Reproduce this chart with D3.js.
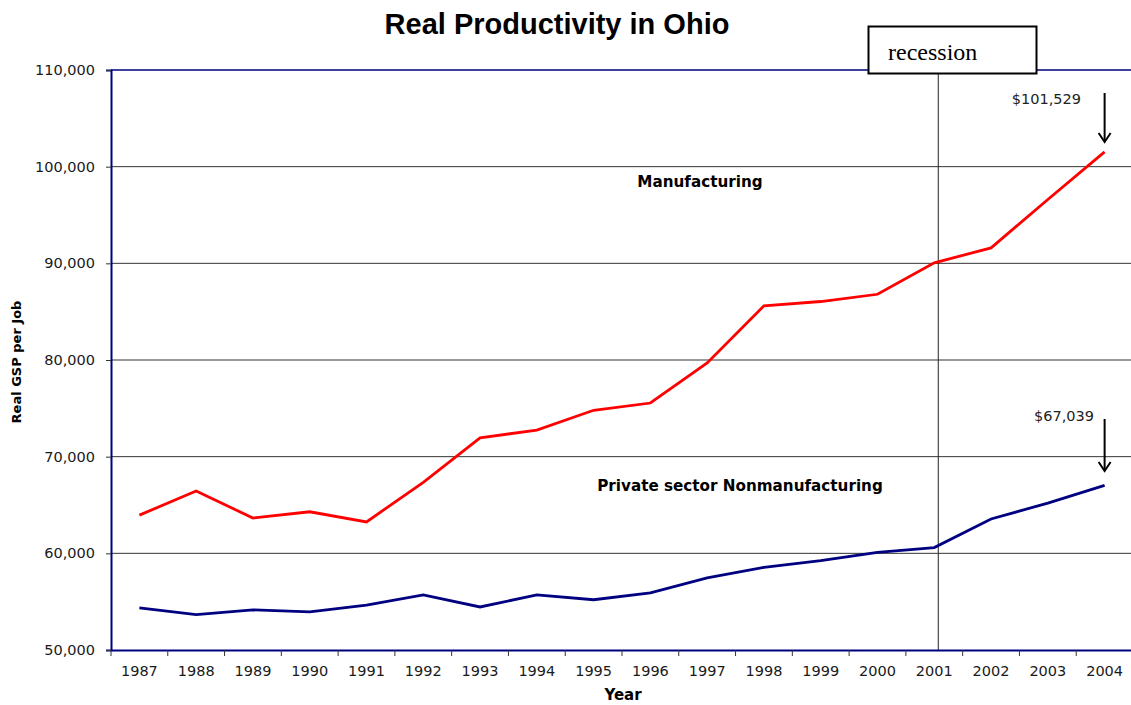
<!DOCTYPE html>
<html><head><meta charset="utf-8">
<script src="https://cdn.jsdelivr.net/npm/d3@7"></script>
<style>body{margin:0;background:#fff}svg{display:block}</style>
</head><body>
<svg id="c" width="1131" height="705"></svg>
<script>
const years = ["1987","1988","1989","1990","1991","1992","1993","1994","1995","1996","1997","1998","1999","2000","2001","2002","2003","2004"];
const manufacturing = [63950,66450,63650,64300,63250,67350,71950,72750,74800,75550,79700,85600,86050,86800,90050,91600,96600,101529];
const nonmanufacturing = [54350,53650,54150,53950,54650,55700,54450,55700,55200,55900,57450,58550,59250,60100,60600,63550,65200,67039];
const yTicks = [50000,60000,70000,80000,90000,100000,110000];

const svg = d3.select("#c");
const L = 111, R = 1133, T = 70, B = 650;
const x = d3.scaleBand().domain(years).range([L, R]);
const y = d3.scaleLinear().domain([50000,110000]).range([B, T]);
const fmt = d3.format(",");
const tickFont = "'DejaVu Sans', Verdana, sans-serif";

// gridlines
svg.append("g").selectAll("line").data(yTicks.filter(d => d > 50000 && d < 110000)).join("line")
  .attr("x1", L).attr("x2", 1131).attr("y1", d => y(d)).attr("y2", d => y(d))
  .attr("stroke", "#333").attr("stroke-width", 1);

// recession line
const recX = x("2001") + x.bandwidth()/2 + 4;
svg.append("line").attr("x1", recX).attr("x2", recX).attr("y1", 74).attr("y2", B)
  .attr("stroke", "#222").attr("stroke-width", 1);

// top border
svg.append("line").attr("x1", L).attr("x2", 1131).attr("y1", y(110000)).attr("y2", y(110000))
  .attr("stroke", "#000080").attr("stroke-width", 1.5);

// axes
const yAxis = svg.append("g").attr("transform", `translate(${L},0)`)
  .call(d3.axisLeft(y).tickValues(yTicks).tickFormat(fmt).tickSize(5).tickPadding(11));
const xAxis = svg.append("g").attr("transform", `translate(0,${B})`)
  .call(d3.axisBottom(x).tickSize(0).tickPadding(16));
[yAxis, xAxis].forEach(g => {
  g.select(".domain").attr("stroke", "#000080").attr("stroke-width", 2);
  g.selectAll("text").attr("font-family", tickFont).attr("font-size", 14.5).attr("fill", "#1a1a1a");
});
yAxis.selectAll(".tick line").attr("stroke", "#333");
// x ticks at band boundaries
svg.append("g").selectAll("line").data(years.slice(1)).join("line")
  .attr("x1", d => x(d)).attr("x2", d => x(d)).attr("y1", B).attr("y2", B + 6)
  .attr("stroke", "#333");
svg.append("line").attr("x1", L).attr("x2", L).attr("y1", B).attr("y2", B + 6).attr("stroke", "#333");

// lines
const line = d3.line().x((d, i) => x(years[i]) + x.bandwidth()/2).y(d => y(d));
svg.append("path").datum(manufacturing).attr("d", line).attr("fill", "none")
  .attr("stroke", "#ff0000").attr("stroke-width", 2.8);
svg.append("path").datum(nonmanufacturing).attr("d", line).attr("fill", "none")
  .attr("stroke", "#000080").attr("stroke-width", 2.8);

// title
svg.append("text").attr("x", 557).attr("y", 34).attr("text-anchor", "middle")
  .attr("font-family", "'Liberation Sans', Arial, sans-serif").attr("font-weight", "bold")
  .attr("font-size", 29).text("Real Productivity in Ohio");

// axis titles
svg.append("text").attr("transform", "translate(21,362) rotate(-90)").attr("text-anchor", "middle")
  .attr("font-family", tickFont).attr("font-weight", "bold").attr("font-size", 13).text("Real GSP per Job");
svg.append("text").attr("x", 623).attr("y", 700).attr("text-anchor", "middle")
  .attr("font-family", tickFont).attr("font-weight", "bold").attr("font-size", 15).text("Year");

// series labels
svg.append("text").attr("x", 700).attr("y", 187).attr("text-anchor", "middle")
  .attr("font-family", tickFont).attr("font-weight", "bold").attr("font-size", 15.2).text("Manufacturing");
svg.append("text").attr("x", 740).attr("y", 491).attr("text-anchor", "middle")
  .attr("font-family", tickFont).attr("font-weight", "bold").attr("font-size", 15.2).text("Private sector Nonmanufacturing");

// recession box
svg.append("rect").attr("x", 868.5).attr("y", 26.5).attr("width", 168).attr("height", 47)
  .attr("fill", "#fff").attr("stroke", "#000").attr("stroke-width", 2);
svg.append("text").attr("x", 888).attr("y", 60).attr("font-family", "'Liberation Serif', 'Times New Roman', serif")
  .attr("font-size", 24).text("recession");

// value annotations with arrows
const lastX = x("2004") + x.bandwidth()/2;
const ann = [
  {v: manufacturing[17], ty: 104, tx: 1081, y1: 93, y2: 142},
  {v: nonmanufacturing[17], ty: 421, tx: 1094, y1: 419, y2: 471}
];
ann.forEach(a => {
  svg.append("text").attr("x", a.tx).attr("y", a.ty).attr("text-anchor", "end")
    .attr("font-family", tickFont).attr("font-size", 14.5).attr("fill", "#222").text("$" + fmt(a.v));
  svg.append("line").attr("x1", lastX).attr("x2", lastX).attr("y1", a.y1).attr("y2", a.y2)
    .attr("stroke", "#000").attr("stroke-width", 2);
  svg.append("path").attr("d", `M${lastX-6},${a.y2-9} L${lastX},${a.y2} L${lastX+6},${a.y2-9}`)
    .attr("fill", "none").attr("stroke", "#000").attr("stroke-width", 2);
});
</script>
</body></html>
